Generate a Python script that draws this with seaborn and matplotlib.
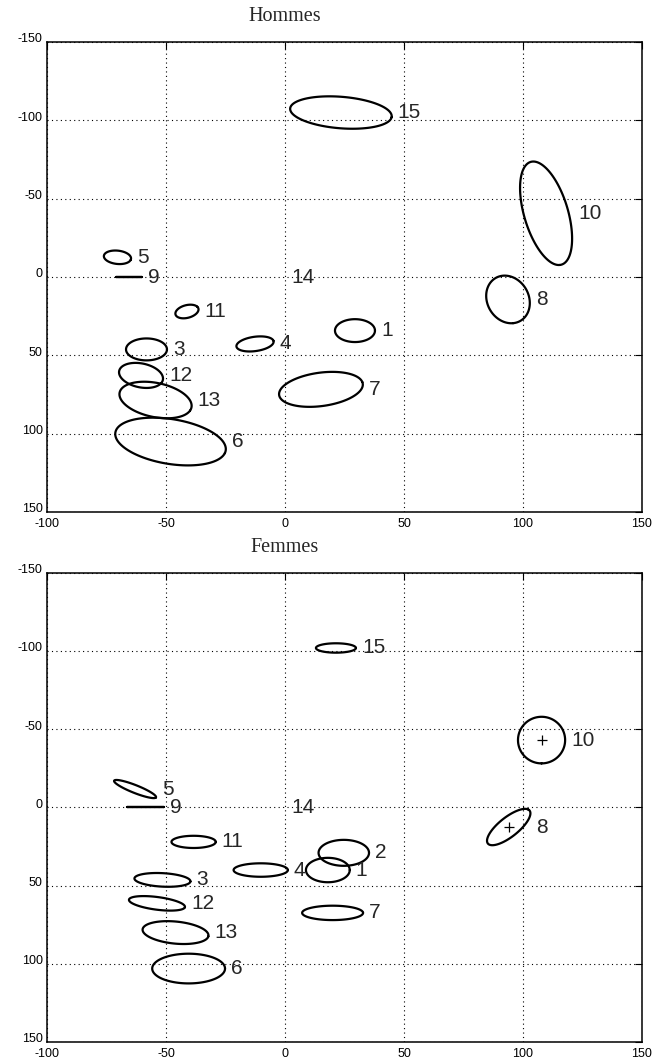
import numpy as np
import pandas as pd
import matplotlib
matplotlib.use("Agg")
import matplotlib.pyplot as plt
import matplotlib.transforms as mtransforms
import seaborn as sns

# ellipse parameters: label, centre x, centre y, semi-axis a, semi-axis b, angle (deg, data coords)
labels = ["1", "3", "4", "5", "6", "7", "8", "9", "10", "11", "12", "13", "14", "15"]
h_cx = [29.4, -58.2, -12.6, -70.4, -48.1, 15.1, 93.7, -65.5, 109.7, -41.2, -60.5, -54.4, 0.0, 23.5]
h_cy = [34.2, 46.2, 42.7, -12.6, 105.0, 71.7, 14.3, 0.0, -40.7, 22.0, 62.8, 78.5, 0.0, -105.0]
h_a = [8.4, 8.6, 8.0, 5.8, 24.0, 18.0, 15.3, 5.4, 33.5, 5.3, 9.8, 16.0, 0.0, 21.5]
h_b = [7.3, 7.0, 4.5, 4.2, 14.0, 10.5, 9.0, 0.0, 9.4, 3.8, 7.3, 10.5, 0.0, 10.0]
h_ang = [0, 0, -15, 15, 18, -15, 82, 0, 80, -35, 30, 25, 0, 8]

f_labels = ["1", "2", "3", "4", "5", "6", "7", "8", "9", "10", "11", "12", "13", "14", "15"]
f_cx = [18.0, 24.7, -51.5, -10.2, -63.0, -40.5, 20.0, 94.0, -58.6, 107.8, -38.4, -53.8, -46.0, 0.0, 21.4]
f_cy = [40.0, 29.0, 46.3, 40.0, -11.8, 103.0, 67.4, 12.5, 0.0, -43.1, 22.0, 61.3, 80.0, 0.0, -102.0]
f_a = [9.2, 10.6, 11.8, 11.4, 10.3, 15.3, 12.8, 13.9, 7.8, 14.9, 9.3, 12.0, 14.0, 0.0, 8.4]
f_b = [7.8, 8.3, 4.3, 4.3, 2.3, 9.5, 4.6, 5.0, 0.0, 9.9, 3.9, 4.0, 7.0, 0.0, 3.0]
f_ang = [0, 0, 5, 0, 32, 0, 0, -54, 0, 90, 0, 12, 10, 0, 0]
f_centre_marks = ["8", "10"]

ticks = [-150, -100, -50, 0, 50, 100, 150]
xticks = [-100, -50, 0, 50, 100, 150]


def ellipse_frame(labs, cx, cy, a, b, ang):
    rows = []
    t = np.linspace(0, 2 * np.pi, 120)
    for lab, x0, y0, aa, bb, th in zip(labs, cx, cy, a, b, ang):
        th = np.deg2rad(th)
        x = x0 + aa * np.cos(t) * np.cos(th) - bb * np.sin(t) * np.sin(th)
        y = y0 + aa * np.cos(t) * np.sin(th) + bb * np.sin(t) * np.cos(th)
        rows.append(pd.DataFrame({"id": lab, "x": x, "y": y, "step": np.arange(len(t))}))
    return pd.concat(rows, ignore_index=True)


def draw_panel(ax, title, labs, cx, cy, a, b, ang, marks=()):
    df = ellipse_frame(labs, cx, cy, a, b, ang)
    drawn = [l for l, aa in zip(labs, a) if aa > 0]
    sns.lineplot(data=df[df["id"].isin(drawn)], x="x", y="y", units="id", estimator=None,
                 sort=False, color="black", lw=1.6, ax=ax, legend=False)
    for lab in labs:
        pts = df[df["id"] == lab]
        i = labs.index(lab)
        ax.text(pts["x"].max() + 2.5, cy[i], lab, fontsize=15, family="Liberation Sans",
                va="center", ha="left")
    if marks:
        mdf = pd.DataFrame({"x": [cx[labs.index(m)] for m in marks],
                            "y": [cy[labs.index(m)] for m in marks]})
        sns.scatterplot(data=mdf, x="x", y="y", marker="+", s=60, color="black",
                        linewidth=0.9, ax=ax, legend=False)
    ax.set_xlim(-100, 150)
    ax.set_ylim(150, -150)
    ax.set_xticks(xticks)
    ax.set_yticks(ticks)
    ax.set_xlabel("")
    ax.set_ylabel("")
    ax.grid(True, color="black", linestyle=(0, (1, 3)), linewidth=0.8)
    ax.tick_params(direction="in", top=True, right=True, length=5, width=0.8,
                   labelsize=9, colors="black")
    ax.tick_params(axis="x", pad=4)
    ax.tick_params(axis="y", pad=3)
    up = mtransforms.ScaledTranslation(0, 3 / 72, fig.dpi_scale_trans)
    for lab in ax.get_yticklabels():
        lab.set_family("Liberation Sans")
        lab.set_transform(lab.get_transform() + up)
    for lab in ax.get_xticklabels():
        lab.set_family("Liberation Sans")
    for sp in ax.spines.values():
        sp.set_linewidth(1.1)
        sp.set_color("black")
    ax.text(0, 1.045, title, transform=ax.get_xaxis_transform(), ha="center",
            va="baseline", fontsize=14.5, family="Liberation Serif")


sns.set_style("white")
plt.rcParams["axes.unicode_minus"] = False
fig = plt.figure(figsize=(6.65, 10.59), dpi=100)
ax1 = fig.add_axes([0.0707, 0.5165, 0.8947, 0.4438])
ax2 = fig.add_axes([0.0707, 0.016, 0.8947, 0.443])

draw_panel(ax1, "Hommes", labels, h_cx, h_cy, h_a, h_b, h_ang)
draw_panel(ax2, "Femmes", f_labels, f_cx, f_cy, f_a, f_b, f_ang, marks=f_centre_marks)

fig.savefig("out.png", dpi=100, facecolor="white")
